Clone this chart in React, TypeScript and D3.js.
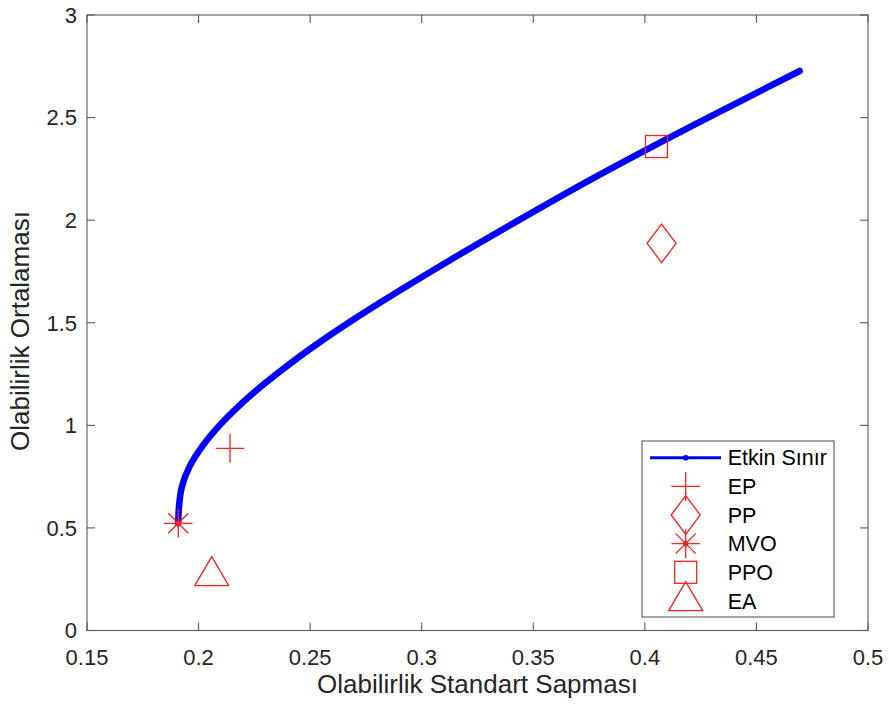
import React from "react";
import * as d3 from "d3";

const frontierMean = [0.5225, 0.6, 0.7, 0.8, 0.9, 1.0, 1.1, 1.2, 1.3, 1.4, 1.5, 1.6, 1.8, 2.0, 2.2, 2.4, 2.6, 2.727];
const frontierStd = [0.1909, 0.1912, 0.1925, 0.1960, 0.2018, 0.2094, 0.2186, 0.2292, 0.2409, 0.2536, 0.2672, 0.2816, 0.3119, 0.3435, 0.3761, 0.4106, 0.4464, 0.4694];

const portfolioNames = ["EP", "PP", "MVO", "PPO", "EA"];
const portfolioStd = [0.2141, 0.4075, 0.1909, 0.4052, 0.2059];
const portfolioMean = [0.888, 1.887, 0.5225, 2.359, 0.266];
const portfolioMarkers = ["plus", "diamond", "star", "square", "triangle"];

const lineLabel = "Etkin Sınır";
const xTicks = [0.15, 0.2, 0.25, 0.3, 0.35, 0.4, 0.45, 0.5];
const yTicks = [0, 0.5, 1, 1.5, 2, 2.5, 3];
const xLabel = "Olabilirlik Standart Sapması";
const yLabel = "Olabilirlik Ortalaması";

const W = 889;
const H = 709;
const L = 87, R = 868, T = 15, B = 630.5;
const AX = "#5a5a5a";
const TXT = "#262626";
const RED = "#ff2020";
const FONT = "'Liberation Sans', Arial, Helvetica, sans-serif";

function Marker({ type, x, y }: { type: string; x: number; y: number }) {
  const sw = 1.3;
  const common = { fill: "none", stroke: RED, strokeWidth: sw };
  if (type === "plus") {
    return <path {...common} d={`M${x - 14.3},${y}H${x + 14.3}M${x},${y - 14.3}V${y + 14.3}`} />;
  }
  if (type === "diamond") {
    return <path {...common} d={`M${x},${y - 19.3}L${x + 14.5},${y}L${x},${y + 19.3}L${x - 14.5},${y}Z`} />;
  }
  if (type === "star") {
    const r = 14.3, dd = 10;
    return (
      <g>
        <path {...common} d={`M${x - r},${y}H${x + r}M${x},${y - r}V${y + r}M${x - dd},${y - dd}L${x + dd},${y + dd}M${x - dd},${y + dd}L${x + dd},${y - dd}`} />
        <circle cx={x} cy={y} r={2.6} fill={RED} />
      </g>
    );
  }
  if (type === "square") {
    return <rect {...common} x={x - 11} y={y - 11} width={22} height={22} />;
  }
  return <path {...common} d={`M${x},${y - 19.3}L${x + 17},${y + 9.7}L${x - 17},${y + 9.7}Z`} />;
}

export default function App() {
  const x = d3.scaleLinear().domain([0.15, 0.5]).range([L, R]);
  const y = d3.scaleLinear().domain([0, 3]).range([B, T]);
  const pts: [number, number][] = frontierStd.map((s, i) => [s, frontierMean[i]]);
  const line = d3
    .line<[number, number]>()
    .x((d) => x(d[0]))
    .y((d) => y(d[1]))
    .curve(d3.curveCatmullRom.alpha(0.5));

  const legX = 642, legY = 441, legW = 192, legH = 176;
  const rowY0 = 457.7, rowStep = 28.65;
  const mx = 685.7;

  return (
    <svg width={W} height={H} style={{ position: "absolute", left: 0, top: 0, background: "#fff" }} fontFamily={FONT}>
      <rect x={0} y={0} width={W} height={H} fill="#fff" />
      {/* frontier */}
      <path d={line(pts) || ""} fill="none" stroke="#0000ff" strokeWidth={6.5} strokeLinecap="round" strokeLinejoin="round" />
      {/* portfolios */}
      {portfolioNames.map((n, i) => (
        <Marker key={n} type={portfolioMarkers[i]} x={x(portfolioStd[i])} y={y(portfolioMean[i])} />
      ))}
      {/* axes box */}
      <rect x={L} y={T} width={R - L} height={B - T} fill="none" stroke={AX} strokeWidth={1.1} />
      {xTicks.map((t) => (
        <g key={"x" + t}>
          <line x1={x(t)} x2={x(t)} y1={B} y2={B - 8} stroke={AX} strokeWidth={1.1} />
          <line x1={x(t)} x2={x(t)} y1={T} y2={T + 8} stroke={AX} strokeWidth={1.1} />
          <text x={x(t)} y={665} textAnchor="middle" fontSize={22} fill={TXT}>
            {String(t)}
          </text>
        </g>
      ))}
      {yTicks.map((t) => (
        <g key={"y" + t}>
          <line x1={L} x2={L + 8} y1={y(t)} y2={y(t)} stroke={AX} strokeWidth={1.1} />
          <line x1={R} x2={R - 8} y1={y(t)} y2={y(t)} stroke={AX} strokeWidth={1.1} />
          <text x={77} y={y(t) + 7.8} textAnchor="end" fontSize={22} fill={TXT}>
            {String(t)}
          </text>
        </g>
      ))}
      <text x={477.5} y={693} textAnchor="middle" fontSize={26} fill={TXT}>
        {xLabel}
      </text>
      <text transform={`translate(28.5,331) rotate(-90)`} textAnchor="middle" fontSize={26} fill={TXT}>
        {yLabel}
      </text>
      {/* legend */}
      <rect x={legX} y={legY} width={legW} height={legH} fill="#fff" stroke={AX} strokeWidth={1.1} />
      <line x1={650} x2={721} y1={rowY0} y2={rowY0} stroke="#0000ff" strokeWidth={3} />
      <circle cx={mx} cy={rowY0} r={2.8} fill="#0000ff" />
      <text x={727.7} y={rowY0 + 7.7} fontSize={21.5} fill="#000">
        {lineLabel}
      </text>
      {portfolioNames.map((n, i) => {
        const ry = rowY0 + (i + 1) * rowStep;
        return (
          <g key={"leg" + n}>
            <Marker type={portfolioMarkers[i]} x={mx} y={ry} />
            <text x={727.7} y={ry + 7.7} fontSize={21.5} fill="#000">
              {n}
            </text>
          </g>
        );
      })}
    </svg>
  );
}
